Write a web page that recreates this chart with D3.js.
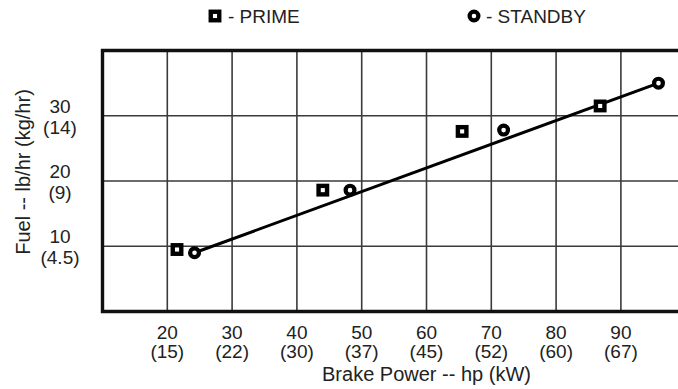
<!DOCTYPE html>
<html>
<head>
<meta charset="utf-8">
<script src="https://cdn.jsdelivr.net/npm/d3@7"></script>
<style>
  body { margin: 0; background: #fff; }
  svg { display: block; font-family: "Liberation Sans", Arial, sans-serif; }
</style>
</head>
<body>
<script>
// data
var primeHp = [21.5, 44, 65.5, 86.8];
var primeFuel = [9.5, 18.6, 27.6, 31.5];
var standbyHp = [24.2, 48.2, 71.9, 95.8];
var standbyFuel = [9.0, 18.6, 27.8, 35.0];

// fitted line, drawn from first to last standby point
var lineHp = [24.2, 95.8];
var lineFuel = [9.0, 35.0];

// tick labels
var xTicks = [20, 30, 40, 50, 60, 70, 80, 90];
var xTicksKw = ["(15)", "(22)", "(30)", "(37)", "(45)", "(52)", "(60)", "(67)"];
var yTicks = [10, 20, 30];
var yTicksKg = ["(4.5)", "(9)", "(14)"];

var svgWidth = 678, svgHeight = 389;

var svg = d3.select("body").append("svg")
    .attr("width", svgWidth)
    .attr("height", svgHeight);

// plot area runs off the right side of the picture
var xScale = d3.scaleLinear().domain([10, 100]).range([102.5, 685.7]);
var yScale = d3.scaleLinear().domain([0, 40]).range([311.5, 50.5]);

// grid
svg.append("g")
    .selectAll("line")
    .data(d3.range(20, 100, 10))
    .enter()
    .append("line")
    .attr("x1", d => xScale(d)).attr("x2", d => xScale(d))
    .attr("y1", yScale(40)).attr("y2", yScale(0))
    .attr("stroke", "#3a3a3a")
    .attr("stroke-width", 1.6);

svg.append("g")
    .selectAll("line")
    .data(yTicks)
    .enter()
    .append("line")
    .attr("x1", xScale(10)).attr("x2", svgWidth)
    .attr("y1", d => yScale(d)).attr("y2", d => yScale(d))
    .attr("stroke", "#3a3a3a")
    .attr("stroke-width", 1.6);

// frame (left, top, bottom)
svg.append("path")
    .attr("d", `M${svgWidth + 5},${yScale(40)} H${xScale(10)} V${yScale(0)} H${svgWidth + 5}`)
    .attr("fill", "none")
    .attr("stroke", "#111")
    .attr("stroke-width", 3.4);

// x tick labels
var xLab = svg.append("g")
    .attr("font-size", 19)
    .attr("fill", "#222")
    .attr("text-anchor", "middle");
xLab.selectAll("text.hp")
    .data(xTicks)
    .enter()
    .append("text")
    .attr("class", "hp")
    .attr("x", d => xScale(d))
    .attr("y", 339)
    .text(d => d);
xLab.selectAll("text.kw")
    .data(xTicksKw)
    .enter()
    .append("text")
    .attr("class", "kw")
    .attr("x", (d, i) => xScale(xTicks[i]))
    .attr("y", 358)
    .text(d => d);

svg.append("text")
    .attr("x", xScale(60))
    .attr("y", 381)
    .attr("text-anchor", "middle")
    .attr("font-size", 20)
    .attr("fill", "#222")
    .text("Brake Power -- hp (kW)");

// y tick labels
var yLab = svg.append("g")
    .attr("font-size", 19)
    .attr("fill", "#222")
    .attr("text-anchor", "middle");
yLab.selectAll("text.lb")
    .data(yTicks)
    .enter()
    .append("text")
    .attr("class", "lb")
    .attr("x", 60)
    .attr("y", d => yScale(d) - 3)
    .text(d => d);
yLab.selectAll("text.kg")
    .data(yTicksKg)
    .enter()
    .append("text")
    .attr("class", "kg")
    .attr("x", 60)
    .attr("y", (d, i) => yScale(yTicks[i]) + 18)
    .text(d => d);

svg.append("text")
    .attr("transform", "translate(30,172) rotate(-90)")
    .attr("text-anchor", "middle")
    .attr("font-size", 20)
    .attr("fill", "#222")
    .text("Fuel -- lb/hr (kg/hr)");

// fitted line
svg.append("path")
    .datum(lineHp.map((d, i) => [d, lineFuel[i]]))
    .attr("d", d3.line().x(d => xScale(d[0])).y(d => yScale(d[1])))
    .attr("fill", "none")
    .attr("stroke", "#000")
    .attr("stroke-width", 3);

// prime squares
svg.append("g")
    .selectAll("rect")
    .data(primeHp)
    .enter()
    .append("rect")
    .attr("x", d => xScale(d) - 4.25)
    .attr("y", (d, i) => yScale(primeFuel[i]) - 4.25)
    .attr("width", 8.5).attr("height", 8.5)
    .attr("fill", "#fff")
    .attr("stroke", "#000")
    .attr("stroke-width", 4.4);

// standby circles
svg.append("g")
    .selectAll("circle")
    .data(standbyHp)
    .enter()
    .append("circle")
    .attr("cx", d => xScale(d))
    .attr("cy", (d, i) => yScale(standbyFuel[i]))
    .attr("r", 4.4)
    .attr("fill", "#fff")
    .attr("stroke", "#000")
    .attr("stroke-width", 4.2);

// legend
var legend = svg.append("g").attr("font-size", 19).attr("fill", "#222");
legend.append("rect")
    .attr("x", 210.75).attr("y", 11.75)
    .attr("width", 8.5).attr("height", 8.5)
    .attr("fill", "#fff").attr("stroke", "#000").attr("stroke-width", 4.4);
legend.append("text").attr("x", 228).attr("y", 23).text("- PRIME");
legend.append("circle")
    .attr("cx", 474).attr("cy", 16).attr("r", 4.4)
    .attr("fill", "#fff").attr("stroke", "#000").attr("stroke-width", 4.2);
legend.append("text").attr("x", 486).attr("y", 23).text("- STANDBY");
</script>
</body>
</html>
